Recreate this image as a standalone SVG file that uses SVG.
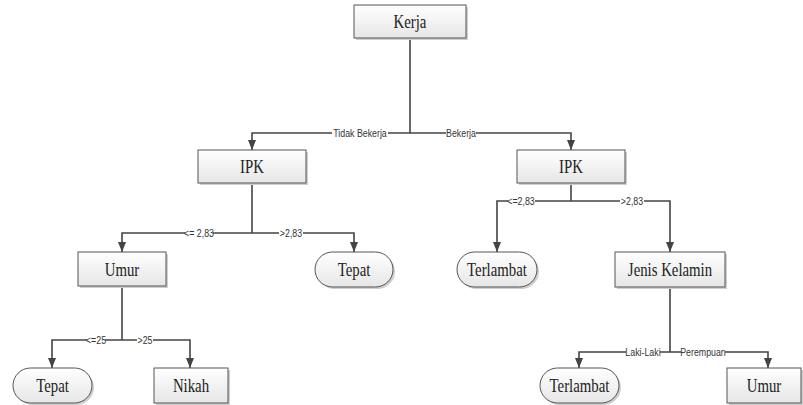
<svg xmlns="http://www.w3.org/2000/svg" width="803" height="405" viewBox="0 0 803 405">
  <style>
    .box { fill: url(#boxFill); stroke: #555; stroke-width: 1; }
    .shadow { fill: #cfcfcf; }
    .lbl { font-family: "Liberation Serif", "Times New Roman", serif; font-size: 19px; fill: #222; text-anchor: middle; }
    .edge { fill: none; stroke: #444; stroke-width: 1.6; }
    .cond { font-family: "Liberation Sans", Arial, sans-serif; font-size: 10.5px; fill: #333; text-anchor: middle; }
    .gap { fill: #fff; }
  </style>
  <defs>
    <linearGradient id="boxFill" x1="0" y1="0" x2="0" y2="1">
      <stop offset="0" stop-color="#ffffff"/>
      <stop offset="1" stop-color="#e6e6e6"/>
    </linearGradient>
    <marker id="arrow" viewBox="0 0 10 8" refX="10" refY="4" markerWidth="10" markerHeight="8" markerUnits="userSpaceOnUse" orient="auto">
      <path d="M0,0 L10,4 L0,8 z" fill="#444"/>
    </marker>
  </defs>
  <rect width="803" height="405" fill="#fff"/>

  <g id="connectors">
    <path class="edge" d="M410 38 V133"/>
    <path class="edge" marker-end="url(#arrow)" d="M410 133 H252 V150"/>
    <path class="edge" marker-end="url(#arrow)" d="M410 133 H571 V150"/>
    <path class="edge" d="M252 183 V233"/>
    <path class="edge" marker-end="url(#arrow)" d="M252 233 H122 V252"/>
    <path class="edge" marker-end="url(#arrow)" d="M252 233 H354 V252"/>
    <path class="edge" d="M571 183 V201"/>
    <path class="edge" marker-end="url(#arrow)" d="M571 201 H497 V252"/>
    <path class="edge" marker-end="url(#arrow)" d="M571 201 H670 V252"/>
    <path class="edge" d="M122 286 V340"/>
    <path class="edge" marker-end="url(#arrow)" d="M122 340 H52 V368"/>
    <path class="edge" marker-end="url(#arrow)" d="M122 340 H190 V368"/>
    <path class="edge" d="M670 287 V352"/>
    <path class="edge" marker-end="url(#arrow)" d="M670 352 H579 V368"/>
    <path class="edge" marker-end="url(#arrow)" d="M670 352 H768 V368"/>

    <!-- edge labels -->
    <rect class="gap" x="332" y="127" width="56" height="12"/>
    <text class="cond" transform="translate(360 136.5) scale(0.84 1)">Tidak Bekerja</text>
    <rect class="gap" x="446" y="127" width="30" height="12"/>
    <text class="cond" transform="translate(461 136.5) scale(0.84 1)">Bekerja</text>
    <rect class="gap" x="185" y="227" width="28" height="12"/>
    <text class="cond" transform="translate(199 236.5) scale(0.84 1)">&lt;= 2,83</text>
    <rect class="gap" x="279" y="227" width="24" height="12"/>
    <text class="cond" transform="translate(291 236.5) scale(0.84 1)">&gt;2,83</text>
    <rect class="gap" x="508" y="195" width="27" height="12"/>
    <text class="cond" transform="translate(521 204.5) scale(0.84 1)">&lt;=2,83</text>
    <rect class="gap" x="620" y="195" width="24" height="12"/>
    <text class="cond" transform="translate(632 204.5) scale(0.84 1)">&gt;2,83</text>
    <rect class="gap" x="87" y="334" width="18" height="12"/>
    <text class="cond" transform="translate(96 343.5) scale(0.84 1)">&lt;=25</text>
    <rect class="gap" x="137" y="334" width="16" height="12"/>
    <text class="cond" transform="translate(145 343.5) scale(0.84 1)">&gt;25</text>
    <rect class="gap" x="626" y="346" width="34" height="12"/>
    <text class="cond" transform="translate(643 355.5) scale(0.84 1)">Laki-Laki</text>
    <rect class="gap" x="681" y="346" width="44" height="12"/>
    <text class="cond" transform="translate(703 355.5) scale(0.84 1)">Perempuan</text>
  </g>

  <g id="kerja">
    <rect class="shadow" x="356" y="7" width="112" height="33"/>
    <rect class="box" x="354" y="5" width="112" height="33"/>
    <text class="lbl" transform="translate(410 28) scale(0.78 1)">Kerja</text>
  </g>
  <g id="ipk-tidak-bekerja">
    <rect class="shadow" x="200" y="152" width="108" height="33"/>
    <rect class="box" x="198" y="150" width="108" height="33"/>
    <text class="lbl" transform="translate(252 173) scale(0.78 1)">IPK</text>
  </g>
  <g id="ipk-bekerja">
    <rect class="shadow" x="519" y="152" width="108" height="33"/>
    <rect class="box" x="517" y="150" width="108" height="33"/>
    <text class="lbl" transform="translate(571 173) scale(0.78 1)">IPK</text>
  </g>
  <g id="umur-1">
    <rect class="shadow" x="80" y="254" width="88" height="34"/>
    <rect class="box" x="78" y="252" width="88" height="34"/>
    <text class="lbl" transform="translate(122 275.5) scale(0.78 1)">Umur</text>
  </g>
  <g id="tepat-1">
    <rect class="shadow" x="317" y="254" width="78" height="35" rx="17.5"/>
    <rect class="box" x="315" y="252" width="78" height="35" rx="17.5"/>
    <text class="lbl" transform="translate(354 276) scale(0.78 1)">Tepat</text>
  </g>
  <g id="terlambat-1">
    <rect class="shadow" x="459" y="254" width="80" height="35" rx="17.5"/>
    <rect class="box" x="457" y="252" width="80" height="35" rx="17.5"/>
    <text class="lbl" transform="translate(497 276) scale(0.78 1)">Terlambat</text>
  </g>
  <g id="jenis-kelamin">
    <rect class="shadow" x="617" y="254" width="110" height="35"/>
    <rect class="box" x="615" y="252" width="110" height="35"/>
    <text class="lbl" transform="translate(670 276) scale(0.78 1)">Jenis Kelamin</text>
  </g>
  <g id="tepat-2">
    <rect class="shadow" x="15" y="370" width="79" height="35" rx="17.5"/>
    <rect class="box" x="13" y="368" width="79" height="35" rx="17.5"/>
    <text class="lbl" transform="translate(52.5 392) scale(0.78 1)">Tepat</text>
  </g>
  <g id="nikah">
    <rect class="shadow" x="156" y="370" width="74" height="35"/>
    <rect class="box" x="154" y="368" width="74" height="35"/>
    <text class="lbl" transform="translate(191 392) scale(0.78 1)">Nikah</text>
  </g>
  <g id="terlambat-2">
    <rect class="shadow" x="542" y="370" width="79" height="35" rx="17.5"/>
    <rect class="box" x="540" y="368" width="79" height="35" rx="17.5"/>
    <text class="lbl" transform="translate(579.5 392) scale(0.78 1)">Terlambat</text>
  </g>
  <g id="umur-2">
    <rect class="shadow" x="729" y="370" width="74" height="35"/>
    <rect class="box" x="727" y="368" width="74" height="35"/>
    <text class="lbl" transform="translate(764 392) scale(0.78 1)">Umur</text>
  </g>
</svg>
